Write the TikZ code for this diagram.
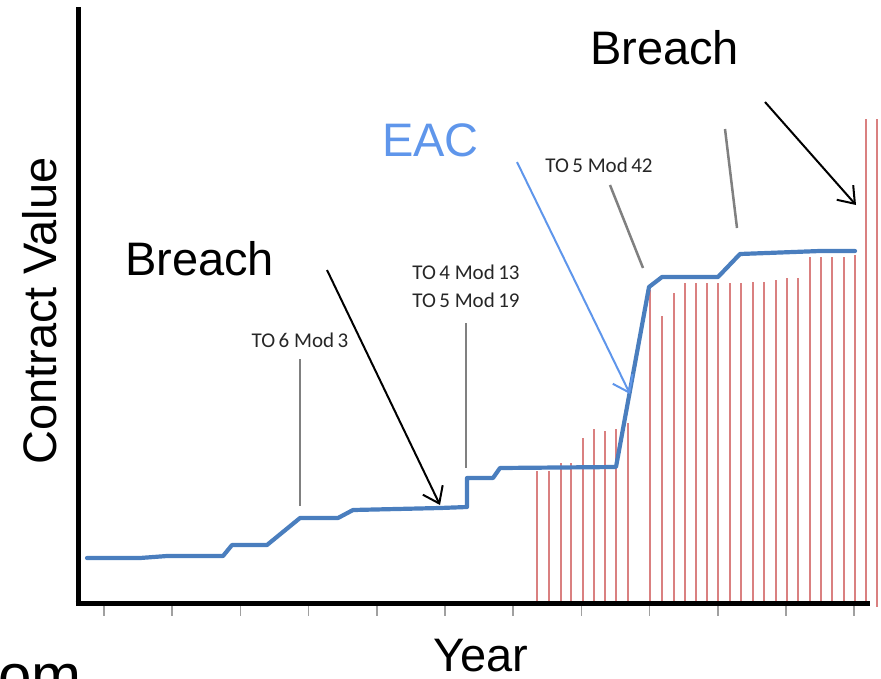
\documentclass[tikz,border=0pt]{standalone}
\usepackage{fontspec}
\setmainfont{Liberation Sans}
\newfontfamily\calib{Carlito}
\usetikzlibrary{arrows.meta}
\definecolor{serblue}{RGB}{74,126,190}
\definecolor{eacblue}{RGB}{95,150,235}
\definecolor{barred}{RGB}{218,128,128}
\definecolor{annogray}{RGB}{128,128,128}
\definecolor{tickgray}{RGB}{160,160,160}
\begin{document}
\begin{tikzpicture}[x=1pt,y=-1pt,
  axisline/.style={black,line width=5pt},
  tickmark/.style={tickgray,line width=1.5pt},
  redbar/.style={barred,line width=1.8pt},
  series/.style={serblue,line width=4.2pt,line join=round,line cap=round},
  annot/.style={annogray,line width=2.5pt},
  callout/.style={black,line width=2pt,-{Straight Barb[length=15pt,width=22pt,line width=2pt]}},
  eaccall/.style={eacblue,line width=2pt,-{Straight Barb[length=15pt,width=22pt,line width=2pt]}},
  bigtext/.style={font=\fontsize{47}{50}\selectfont,inner sep=0pt,anchor=base west},
  smalltext/.style={font=\calib\fontsize{21}{23}\selectfont,inner sep=0pt,anchor=base,text=black!85}]
\useasboundingbox (0,0) rectangle (881,678);

% red bars
\foreach \bx/\bt in {537/471,549/471,561/463,571/463,583/438,594/429,605/431,616/429,628/423,
  650/290,662/316,674/293,685/283,696/283,707/283,718/283,730/283,741/283,753/282,764/282,
  776/280,787/278,798/278,810/257,821/257,832/257,844/257,855/255,866/119}
  \draw[redbar] (\bx,\bt) -- (\bx,603);
\draw[redbar] (877,119) -- (877,607);

% axes
\coordinate (ytop) at (78,7);
\coordinate (origin) at (78,603);
\coordinate (xend) at (870,603);
\draw[axisline] (ytop) -- (78,605.5);
\draw[axisline] (75.5,603) -- (xend);

% ticks
\foreach \k in {0,...,11}
  \draw[tickmark] ({104+\k*68.2},606) -- ({104+\k*68.2},616);

% series
\draw[series] (87,558) -- (140,558) -- (167,556) -- (223,556) -- (232,545) -- (267,545)
  -- (300,518) -- (338,518) -- (353,510) -- (440,508) -- (467,507) -- (467,478)
  -- (493,478) -- (500,468) -- (616,467) -- (649,287) -- (662,277) -- (718,277)
  -- (740,254) -- (767,253) -- (820,251) -- (855,251);

% annotation leaders
\coordinate (a1s) at (300,359); \coordinate (a1e) at (300,506);
\coordinate (a2s) at (466,323); \coordinate (a2e) at (466,468);
\coordinate (a3s) at (610,185); \coordinate (a3e) at (643,268);
\coordinate (a4s) at (725,129); \coordinate (a4e) at (737,228);
\draw[annot] (a1s) -- (a1e);
\draw[annot] (a2s) -- (a2e);
\draw[annot] (a3s) -- (a3e);
\draw[annot] (a4s) -- (a4e);

% callout arrows
\coordinate (b1s) at (327,270); \coordinate (b1e) at (440,505);
\coordinate (b2s) at (765,102); \coordinate (b2e) at (856,205);
\coordinate (es) at (517,162); \coordinate (ee) at (630,394);
\draw[callout] (b1s) -- (b1e);
\draw[callout] (b2s) -- (b2e);
\draw[eaccall] (es) -- (ee);

% texts
\node[bigtext] (breachtop) at (590,64) {Breach};
\node[bigtext] (breachleft) at (125,275) {Breach};
\node[bigtext,text=eacblue] (eac) at (382,156) {EAC};
\node[bigtext] (year) at (433,671) {Year};
\node[bigtext,rotate=90] (yl) at (56,465) {Contract Value};
\node[font=\fontsize{60}{62}\selectfont,inner sep=0pt,anchor=base east] (om) at (82,696) {om};

\node[smalltext] (l1) at (300,347) {TO\,6 Mod\,3};
\node[smalltext] (l2) at (466,279) {TO\,4 Mod\,13};
\node[smalltext] (l3) at (466,307) {TO\,5 Mod\,19};
\node[smalltext] (l4) at (599,172) {TO\,5 Mod\,42};
\end{tikzpicture}
\end{document}
